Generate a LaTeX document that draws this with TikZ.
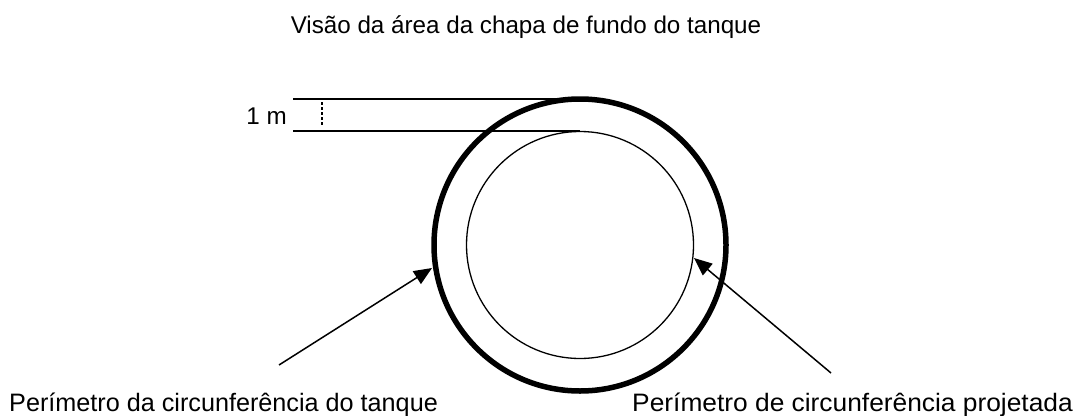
\documentclass[tikz,border=0pt]{standalone}
\usepackage{fontspec}
\setmainfont{Liberation Sans}
\usetikzlibrary{arrows.meta}
\begin{document}
\begin{tikzpicture}[x=1pt,y=-1pt,
  lbl/.style={inner sep=0pt,font=\fontsize{25.2}{28}\selectfont},
  ttl/.style={inner sep=0pt,font=\fontsize{24.2}{27}\selectfont},
  guide/.style={line width=1.5pt},
  pointer/.style={line width=1.5pt,-{Triangle[length=18pt,width=15pt]}},
  tank/.style={line width=5.5pt},
  proj/.style={line width=1.3pt}]
\useasboundingbox (0,0) rectangle (1075,415);
\node[ttl,anchor=base] (title) at (526,33) {Visão da área da chapa de fundo do tanque};
\node[ttl,anchor=base east] (onem) at (287,124) {1 m};
\node[lbl,anchor=base west] (lefttxt) at (9,411) {Perímetro da circunferência do tanque};
\node[lbl,anchor=base east,xscale=1.045] (righttxt) at (1073,411) {Perímetro de circunferência projetada};
\coordinate (c) at (580,245);
\draw[tank] (c) circle[radius=146pt];
\draw[proj] (c) circle[radius=113.5pt];
\coordinate (l1a) at (293,99);
\coordinate (l1b) at (580,99);
\coordinate (l2a) at (293,131);
\coordinate (l2b) at (580,131);
\draw[guide] (l1a) -- (l1b);
\draw[guide] (l2a) -- (l2b);
\coordinate (da) at (322,102);
\coordinate (db) at (322,126);
\draw[line width=2.2pt,dash pattern=on 2.5pt off 2.5pt] (da) -- (db);
\coordinate (lt) at (279,365);
\coordinate (lh) at (432,268);
\coordinate (rt) at (831,373);
\coordinate (rh) at (694,258);
\draw[pointer] (lt) -- (lh);
\draw[pointer] (rt) -- (rh);
\end{tikzpicture}
\end{document}
